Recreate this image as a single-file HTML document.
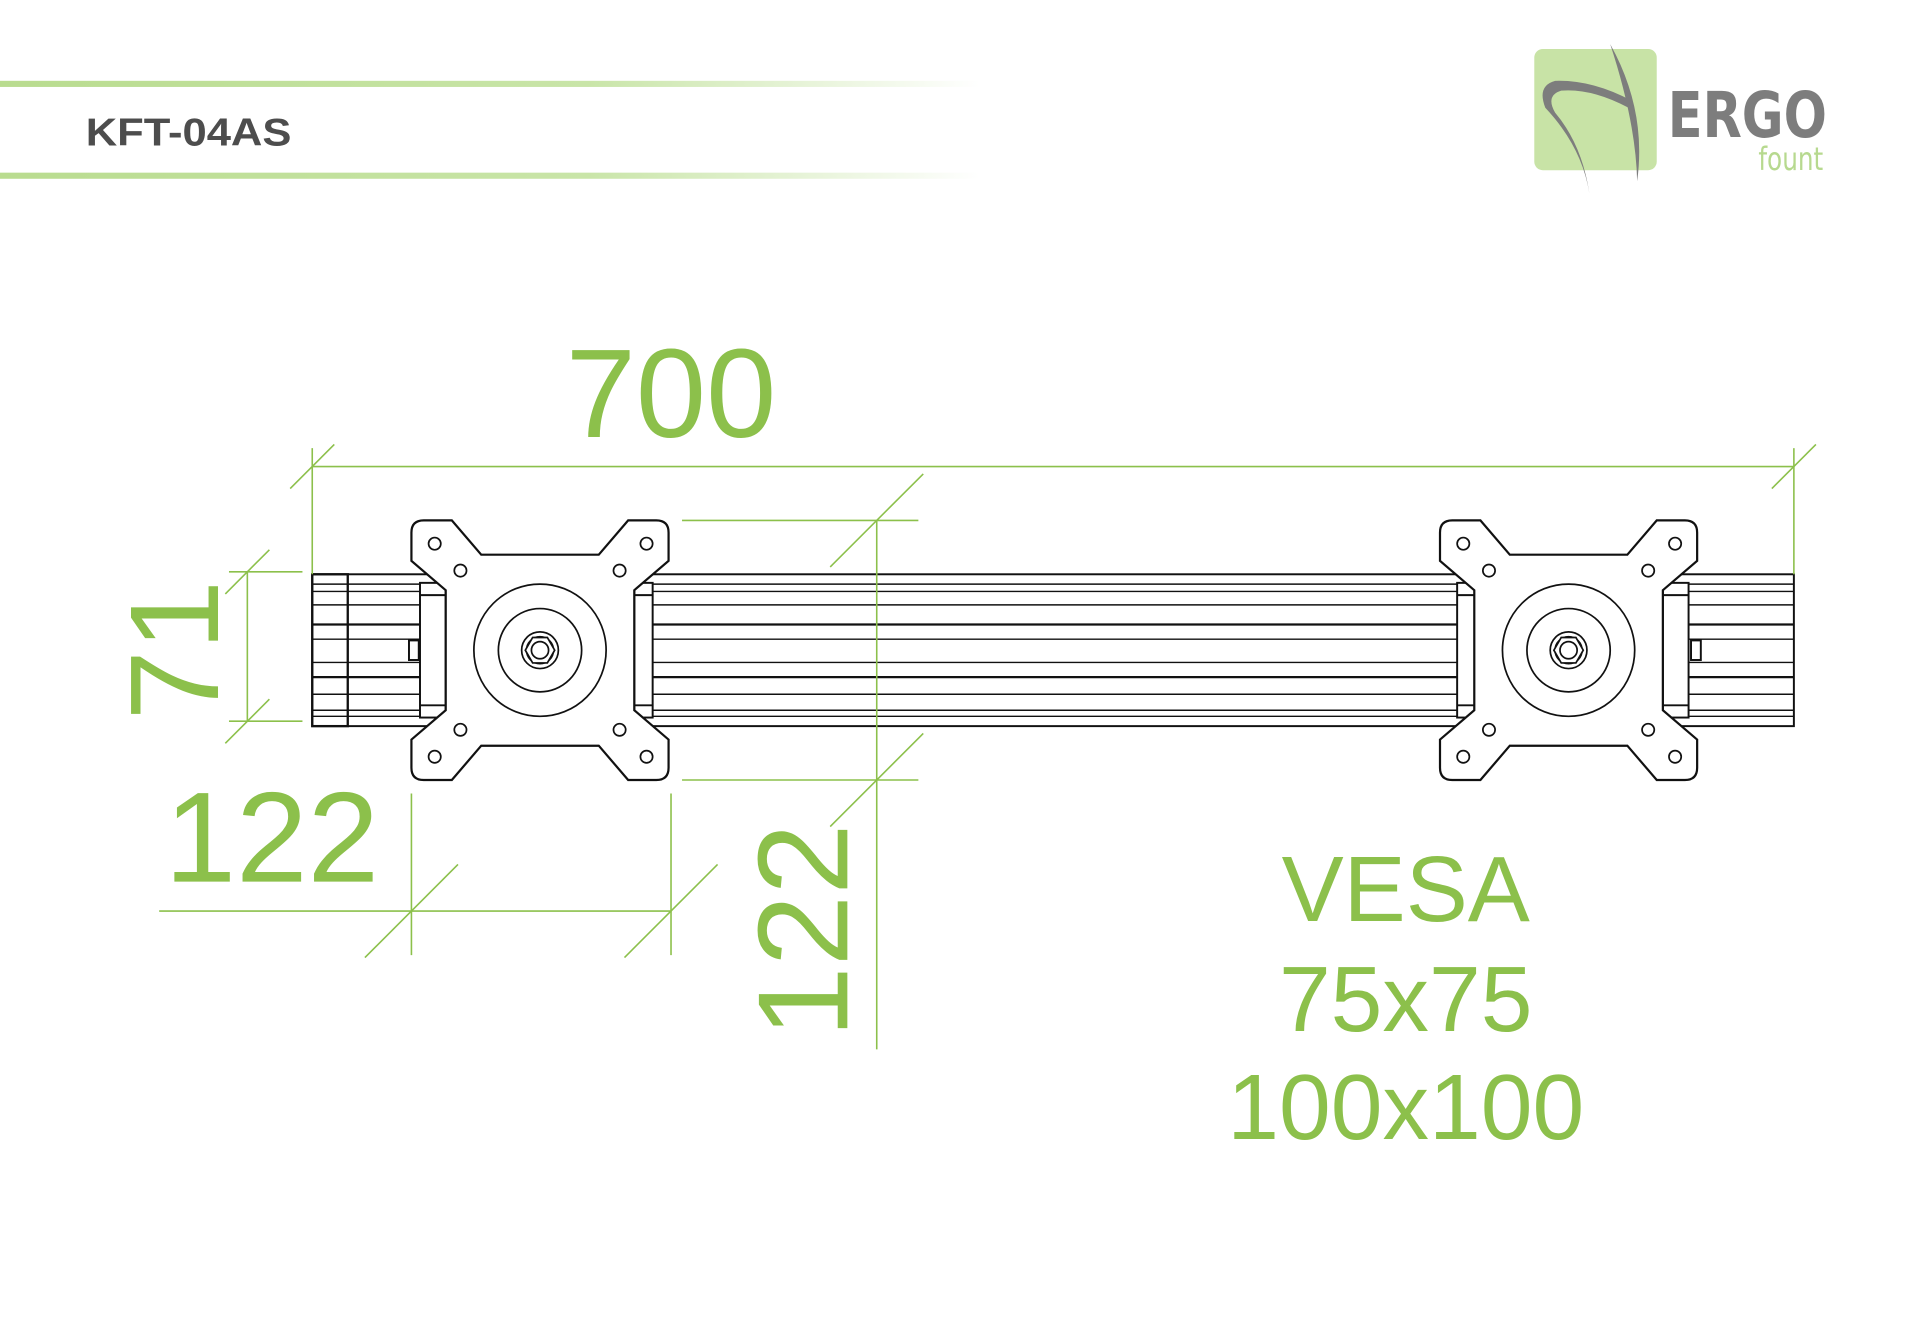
<!DOCTYPE html>
<html><head><meta charset="utf-8"><style>html,body{margin:0;padding:0;background:#fff}svg{display:block}</style></head><body>
<svg width="1920" height="1344" viewBox="0 0 1568 1097.6" xmlns="http://www.w3.org/2000/svg" font-family="Liberation Sans, sans-serif">
<defs>
<linearGradient id="fade" x1="0" x2="1" y1="0" y2="0"><stop offset="0" stop-color="#b9dc8f"/><stop offset="0.6" stop-color="#c9e5a8"/><stop offset="1" stop-color="#fff"/></linearGradient>
<g id="plate">
<path d="M-95,-106 H-72 L-48,-78 H48 L72,-106 H95 Q105,-106 105,-96 V-73 L77,-49 V49 L105,73 V96 Q105,106 95,106 H72 L48,78 H-48 L-72,106 H-95 Q-105,106 -105,96 V73 L-77,49 V-49 L-105,-73 V-96 Q-105,-106 -95,-106 Z" fill="#fff" stroke="#111" stroke-width="1.8"/>
<g fill="#fff" stroke="#111" stroke-width="1.4">
<circle cx="-65" cy="-65" r="5"/><circle cx="65" cy="-65" r="5"/><circle cx="-65" cy="65" r="5"/><circle cx="65" cy="65" r="5"/>
<circle cx="-86" cy="-87" r="5"/><circle cx="87" cy="-87" r="5"/><circle cx="-86" cy="87" r="5"/><circle cx="87" cy="87" r="5"/>
<circle r="54"/><circle r="34"/><circle r="15"/><circle r="11"/>
<polygon points="12,0 6,10.4 -6,10.4 -12,0 -6,-10.4 6,-10.4"/><circle r="7"/>
</g>
</g>
</defs>
<rect x="0" y="66" width="800" height="5" fill="url(#fade)"/>
<rect x="0" y="141" width="800" height="5" fill="url(#fade)"/>
<text x="70" y="119" font-size="32" font-weight="bold" fill="#4d4d4d" textLength="168" lengthAdjust="spacingAndGlyphs">KFT-04AS</text>
<rect x="1253" y="40" width="100" height="99" rx="7" fill="#c8e3a6"/>
<path d="M1315,36 Q1345,90 1337,148 Q1336,100 1315,36Z" fill="#7d7d7d"/>
<path d="M1332,82 Q1300,65 1270,66 Q1255,70 1262,88 Q1292,120 1298,158 Q1292,118 1270,92 Q1262,78 1275,74 Q1300,72 1330,88Z" fill="#7d7d7d"/>
<text x="1362" y="112" font-size="52" fill="#7d7d7d" font-family="DejaVu Sans Condensed, Liberation Sans Narrow, sans-serif" font-weight="bold" textLength="130" lengthAdjust="spacingAndGlyphs">ERGO</text>
<text x="1436" y="139" font-size="26" fill="#b7d98f" font-family="DejaVu Sans Condensed, sans-serif" textLength="53" lengthAdjust="spacingAndGlyphs">fount</text>
<g stroke="#111" stroke-width="1.6" fill="none">
<rect x="255" y="469" width="1210" height="124" fill="#fff"/>
<g stroke-width="1.2">
<line x1="255" y1="477" x2="1465" y2="477"/><line x1="255" y1="483" x2="1465" y2="483"/>
<line x1="255" y1="494" x2="1465" y2="494"/><line x1="255" y1="510" x2="1465" y2="510" stroke-width="1.9"/>
<line x1="255" y1="522" x2="1465" y2="522"/><line x1="255" y1="541" x2="1465" y2="541"/>
<line x1="255" y1="553" x2="1465" y2="553" stroke-width="1.9"/><line x1="255" y1="567" x2="1465" y2="567"/>
<line x1="255" y1="580" x2="1465" y2="580"/><line x1="255" y1="585" x2="1465" y2="585"/>
</g>
<rect x="255" y="469" width="29" height="124" fill="none" stroke-width="1.9"/>
</g>
<g stroke="#111" stroke-width="1.6" fill="#fff">
<rect x="343" y="476" width="21" height="110"/><line x1="343" y1="486" x2="364" y2="486"/><line x1="343" y1="576" x2="364" y2="576"/>
<rect x="518" y="476" width="15" height="110"/><line x1="518" y1="486" x2="533" y2="486"/><line x1="518" y1="576" x2="533" y2="576"/>
<rect x="1190" y="476" width="15" height="110"/><line x1="1190" y1="486" x2="1205" y2="486"/><line x1="1190" y1="576" x2="1205" y2="576"/>
<rect x="1358" y="476" width="21" height="110"/><line x1="1358" y1="486" x2="1379" y2="486"/><line x1="1358" y1="576" x2="1379" y2="576"/>
<rect x="334" y="523" width="8" height="16"/><rect x="1381" y="523" width="8" height="16"/>
</g>
<use href="#plate" x="441" y="531"/>
<use href="#plate" x="1281" y="531"/>
<g stroke="#8cc04b" stroke-width="1.3" fill="none">
<line x1="255" y1="381" x2="1465" y2="381"/>
<line x1="255" y1="366" x2="255" y2="469"/><line x1="1465" y1="366" x2="1465" y2="469"/>
<line x1="237" y1="399" x2="273" y2="363"/><line x1="1447" y1="399" x2="1483" y2="363"/>
<line x1="202" y1="467" x2="202" y2="589"/>
<line x1="187" y1="467" x2="247" y2="467"/><line x1="187" y1="589" x2="247" y2="589"/>
<line x1="184" y1="485" x2="220" y2="449"/><line x1="184" y1="607" x2="220" y2="571"/>
<line x1="130" y1="744" x2="548" y2="744"/>
<line x1="336" y1="648" x2="336" y2="780"/><line x1="548" y1="648" x2="548" y2="780"/>
<line x1="298" y1="782" x2="374" y2="706"/><line x1="510" y1="782" x2="586" y2="706"/>
<line x1="716" y1="425" x2="716" y2="857"/>
<line x1="557" y1="425" x2="750" y2="425"/><line x1="557" y1="637" x2="750" y2="637"/>
<line x1="678" y1="463" x2="754" y2="387"/><line x1="678" y1="675" x2="754" y2="599"/>
</g>
<g fill="#8cc04b">
<text x="548" y="357" font-size="103" text-anchor="middle">700</text>
<text transform="translate(178,531) rotate(-90)" font-size="103" text-anchor="middle">71</text>
<text x="222" y="720" font-size="105" text-anchor="middle">122</text>
<text transform="translate(692,760) rotate(-90)" font-size="105" text-anchor="middle">122</text>
<text x="1148" y="752" font-size="76" text-anchor="middle">VESA</text>
<text x="1148" y="842" font-size="76" text-anchor="middle">75x75</text>
<text x="1148" y="930" font-size="76" text-anchor="middle">100x100</text>
</g>
</svg>
</body></html>
